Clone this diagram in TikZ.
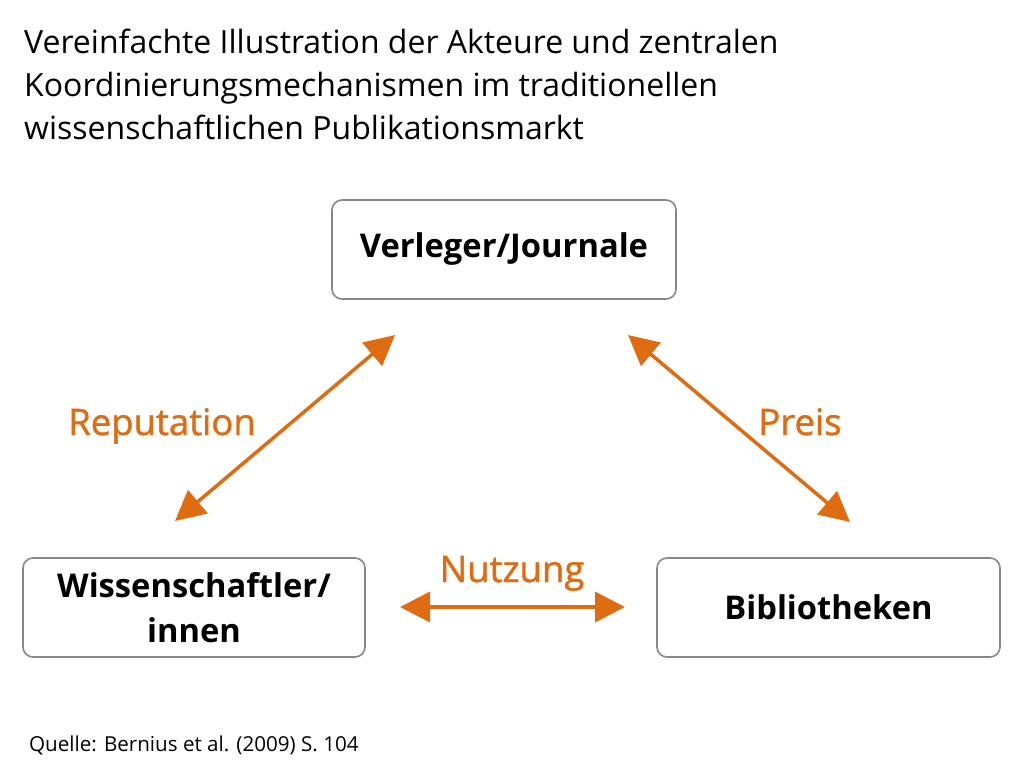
\documentclass[tikz,border=0pt]{standalone}
\usepackage{fontspec}
\setmainfont{Open Sans}
\newfontfamily\semib[FakeBold=1.2]{Open Sans}
\usetikzlibrary{arrows.meta}
\definecolor{orng}{HTML}{E06C12}
\definecolor{bordergray}{HTML}{888888}
\tikzset{
  box/.style={draw=bordergray, line width=1.6pt, rounded corners=10pt, minimum width=344pt, minimum height=99pt, align=center, font=\fontsize{32.7}{45}\selectfont\bfseries, text=black},
  lbl/.style={text=orng, anchor=base, font=\fontsize{36.5}{40}\selectfont\semib},
  dblarrow/.style={draw=orng, line width=3.5pt, {Triangle[length=30pt,width=30pt]}-{Triangle[length=30pt,width=30pt]}}
}
\begin{document}
\begin{tikzpicture}[x=1pt,y=-1pt]
\useasboundingbox (0,0) rectangle (1024,768);
\node[anchor=north west, align=left, font=\fontsize{32}{43}\selectfont, inner sep=0pt] (title) at (24,29) {Vereinfachte Illustration der Akteure und zentralen\\Koordinierungsmechanismen im traditionellen\\wissenschaftlichen Publikationsmarkt};
\node[box] (ver) at (504,249.5) {Verleger/Journale};
\node[box, minimum width=342pt] (wis) at (194,607.5) {Wissenschaftler/\\innen};
\node[box, minimum width=343pt] (bib) at (828.5,607.5) {Bibliotheken};
\coordinate (r1) at (395,335);
\coordinate (r2) at (175,521);
\coordinate (p1) at (628,335);
\coordinate (p2) at (850,522);
\coordinate (n1) at (400,607);
\coordinate (n2) at (625,607);
\draw[dblarrow] (r2) -- (r1);
\draw[dblarrow] (p1) -- (p2);
\draw[dblarrow] (n1) -- (n2);
\node[lbl] (rep) at (162,435) {Reputation};
\node[lbl] (pre) at (800,435) {Preis};
\node[lbl] (nut) at (512,582) {Nutzung};
\node[anchor=west, font=\fontsize{20.6}{24}\selectfont, inner sep=0pt] (src) at (29,745) {Quelle: Bernius et al. (2009) S. 104};
\end{tikzpicture}
\end{document}
